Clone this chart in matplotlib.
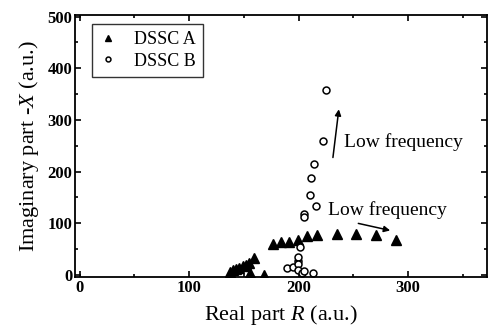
import matplotlib.pyplot as plt
from matplotlib.ticker import MultipleLocator

# DSSC A (filled triangles)
a_r = [137, 140, 143, 146, 149, 152, 155, 159, 156, 168, 177, 184, 191, 199, 208, 217, 235, 252, 271, 289]
a_x = [5, 9, 12, 14, 17, 20, 24, 33, 3, 0, 60, 63, 64, 68, 76, 78, 80, 80, 78, 68]

# DSSC B (open circles)
b_r = [189, 195, 199, 199, 199, 201, 205, 205, 210, 211, 214, 216, 222, 225, 199, 203, 205, 213]
b_x = [14, 16, 27, 35, 22, 55, 118, 112, 155, 188, 215, 133, 260, 358, 10, 3, 8, 4]

plt.rcParams['font.family'] = ['Liberation Serif', 'DejaVu Serif']
plt.rcParams['mathtext.fontset'] = 'custom'
plt.rcParams['mathtext.it'] = 'Liberation Serif:italic'
plt.rcParams['mathtext.rm'] = 'Liberation Serif'

fig = plt.figure(figsize=(4.91, 3.35), dpi=100)
ax = fig.add_axes([0.153, 0.173, 0.839, 0.782])

ax.plot(a_r, a_x, linestyle='none', marker='^', color='black', markersize=6.5, label='DSSC A')
ax.plot(b_r, b_x, linestyle='none', marker='o', markerfacecolor='white', markeredgecolor='black',
        markeredgewidth=1.1, markersize=5, label='DSSC B')

ax.set_xlim(-4, 372)
ax.set_ylim(-4, 503)
ax.xaxis.set_major_locator(MultipleLocator(100))
ax.xaxis.set_minor_locator(MultipleLocator(50))
ax.yaxis.set_major_locator(MultipleLocator(100))
ax.yaxis.set_minor_locator(MultipleLocator(50))
ax.tick_params(which='both', direction='in', top=True, right=True, width=1.2)
ax.tick_params(which='major', length=4, labelsize=12, pad=2)
ax.tick_params(which='minor', length=2.5)
for lbl in ax.get_xticklabels() + ax.get_yticklabels():
    lbl.set_fontweight('bold')
for s in ax.spines.values():
    s.set_linewidth(1.3)

ax.set_xlabel('Real part $R$ (a.u.)', fontsize=16, labelpad=5)
ax.set_ylabel('Imaginary part -$X$ (a.u.)', fontsize=16, labelpad=5)

ax.annotate('', xy=(237, 326), xytext=(231, 222),
            arrowprops=dict(arrowstyle='-|>', color='black', lw=1.1, mutation_scale=9))
ax.annotate('', xy=(286, 85), xytext=(252, 101),
            arrowprops=dict(arrowstyle='-|>', color='black', lw=1.1, mutation_scale=9))
ax.text(241, 258, 'Low frequency', fontsize=14, va='center', ha='left')
ax.text(227, 126, 'Low frequency', fontsize=14, va='center', ha='left')

leg = ax.legend(loc='upper left', fontsize=13, frameon=True, fancybox=False, edgecolor='black',
                markerscale=0.7, handlelength=1.0, handletextpad=0.9, borderpad=0.4,
                labelspacing=0.25, borderaxespad=0, bbox_to_anchor=(0.041, 0.966))
leg.get_frame().set_linewidth(1.0)

plt.savefig('out.png', dpi=100)
